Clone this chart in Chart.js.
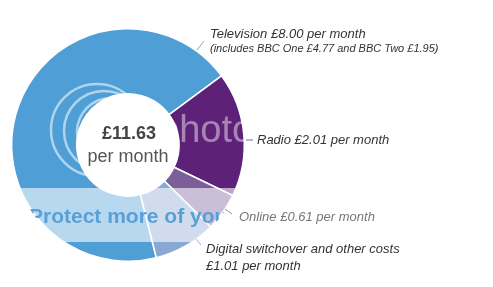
<!DOCTYPE html>
<html>
<head>
<meta charset="utf-8">
<script src="https://cdn.jsdelivr.net/npm/chart.js@4.4.0/dist/chart.umd.min.js"></script>
<style>
  html, body { margin: 0; padding: 0; background: #fff; }
  #wrap { width: 493px; height: 287px; position: relative; }
</style>
</head>
<body>
<div id="wrap"><canvas id="licenceChart"></canvas></div>
<script>
var categories = ['Television', 'Radio', 'Online', 'Digital switchover and other costs'];
var perMonth = [8.00, 2.01, 0.61, 1.01];
var sliceColours = ['#4f9fd6', '#5d2178', '#7a5f99', '#89a8d3'];
var totalLabel = ['£11.63', 'per month'];
var calloutLines = [
  ['Television £8.00 per month', '(includes BBC One £4.77 and BBC Two £1.95)'],
  ['Radio £2.01 per month'],
  ['Online £0.61 per month'],
  ['Digital switchover and other costs', '£1.01 per month']
];

// where each callout sits: leader line + text
var callouts = [
  { line: [197, 50, 204, 41], lineColour: '#6fb0de', x: 210, y: [38, 52], size: [13, 11], colour: '#333' },
  { line: [246, 140, 253, 140], lineColour: '#7a6a8a', x: 257, y: [144], size: [13], colour: '#333' },
  { line: [225, 209, 232, 214], lineColour: '#9c88b4', x: 239, y: [221], size: [13], colour: '#777' },
  { line: [196, 239, 201, 245], lineColour: '#8fb4dc', x: 206, y: [253, 270], size: [13, 13], colour: '#333' }
];

var watermark = {
  id: 'watermark',
  afterDatasetsDraw: function(chart) {
    var arc = chart.getDatasetMeta(0).data[0];
    var c = chart.ctx;
    c.save();
    c.beginPath();
    c.arc(arc.x, arc.y, arc.outerRadius + 1, 0, Math.PI * 2);
    c.clip();
    // rings
    c.strokeStyle = 'rgba(255,255,255,0.55)';
    c.lineWidth = 2.5;
    [[97, 130, 46], [104, 131, 40], [111, 132, 34]].forEach(function(r) {
      c.beginPath();
      c.arc(r[0], r[1], r[2], 0, Math.PI * 2);
      c.stroke();
    });
    // "photo"
    c.fillStyle = 'rgba(255,255,255,0.45)';
    c.font = '38px "Liberation Sans", Arial, sans-serif';
    c.textBaseline = 'alphabetic';
    c.fillText('photobucket', 158, 142);
    // band
    c.fillStyle = 'rgba(255,255,255,0.6)';
    c.fillRect(0, 188, 493, 54);
    c.fillStyle = '#58a1d8';
    c.font = 'bold 21px "Liberation Sans", Arial, sans-serif';
    c.fillText('Protect more of your memories', 29, 223);
    c.restore();
  }
};

var labelsPlugin = {
  id: 'labels',
  afterDraw: function(chart) {
    var c = chart.ctx;
    var arc = chart.getDatasetMeta(0).data[0];
    c.save();
    // centre text
    c.textAlign = 'center';
    c.textBaseline = 'alphabetic';
    c.fillStyle = '#444';
    c.font = 'bold 18px "Liberation Sans", Arial, sans-serif';
    c.fillText(totalLabel[0], arc.x + 1, 139);
    c.fillStyle = '#555';
    c.font = '18px "Liberation Sans", Arial, sans-serif';
    c.fillText(totalLabel[1], arc.x, 162);
    // callouts
    c.textAlign = 'left';
    callouts.forEach(function(o, i) {
      c.strokeStyle = o.lineColour;
      c.lineWidth = 1;
      c.beginPath();
      c.moveTo(o.line[0], o.line[1]);
      c.lineTo(o.line[2], o.line[3]);
      c.stroke();
      c.fillStyle = o.colour;
      calloutLines[i].forEach(function(t, j) {
        c.font = 'italic ' + o.size[j] + 'px "Liberation Sans", Arial, sans-serif';
        c.fillText(t, o.x, o.y[j]);
      });
    });
    c.restore();
  }
};

var ctx = document.getElementById('licenceChart').getContext('2d');
var chart = new Chart(ctx, {
  type: 'doughnut',
  data: {
    labels: categories,
    datasets: [{
      data: perMonth,
      backgroundColor: sliceColours,
      borderColor: '#fff',
      borderWidth: 1.5
    }]
  },
  options: {
    responsive: true,
    maintainAspectRatio: false,
    animation: false,
    cutout: '44%',
    rotation: 165.9,
    layout: { padding: { left: 11, right: 248, top: 28, bottom: 25 } },
    plugins: {
      legend: { display: false },
      tooltip: { enabled: false }
    }
  },
  plugins: [watermark, labelsPlugin]
});
</script>
</body>
</html>
